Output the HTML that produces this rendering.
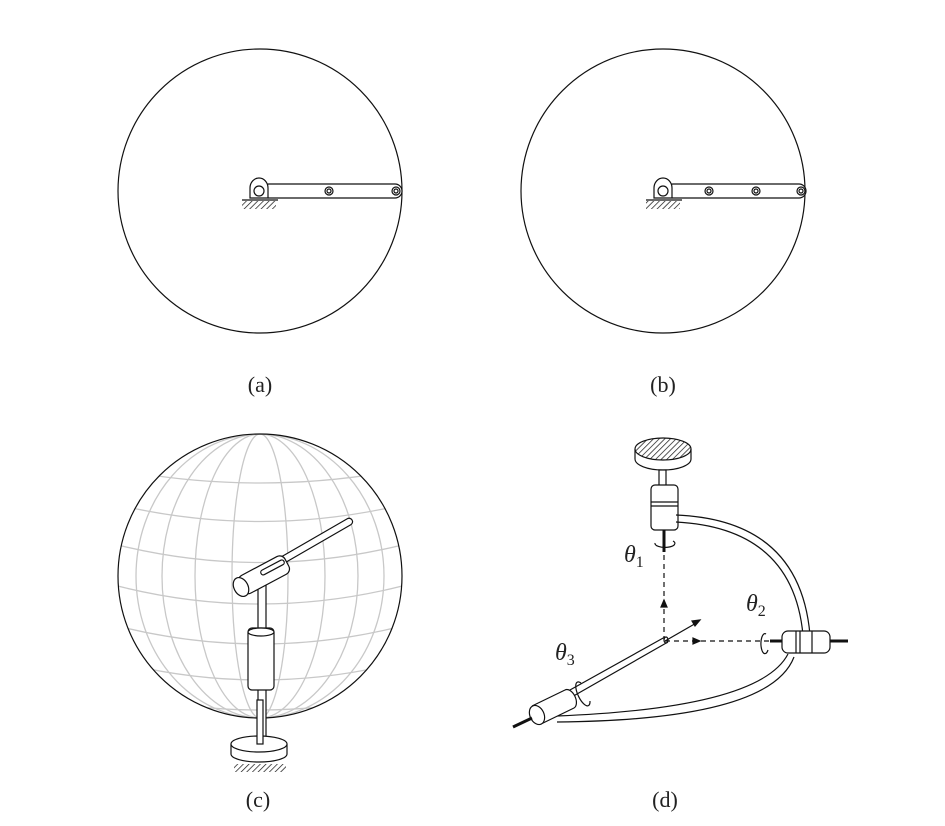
<!DOCTYPE html>
<html><head><meta charset="utf-8"><style>
body{margin:0;background:#fff}
svg{display:block}
text{font-family:"Liberation Serif",serif;fill:#222}
</style></head><body>
<svg width="945" height="826" viewBox="0 0 945 826">
<defs>
<pattern id="h" width="4" height="4" patternUnits="userSpaceOnUse" patternTransform="rotate(45)"><line x1="0" y1="0" x2="0" y2="4" stroke="#111" stroke-width="1.4"/></pattern>
<clipPath id="sph"><circle cx="260" cy="576" r="142"/></clipPath>
</defs>
<g fill="none" stroke="#111" stroke-width="1.2">
<g>
<circle cx="260" cy="191" r="142"/>
<rect x="262" y="184" width="140" height="14" rx="7" fill="#fff"/>
<path d="M250 198 V188 A9 10 0 0 1 268 188 V198 Z" fill="#fff"/>
<circle cx="259" cy="191" r="5"/>
<circle cx="329" cy="191" r="4"/><circle cx="329" cy="191" r="2"/>
<circle cx="396" cy="191" r="4"/><circle cx="396" cy="191" r="2"/>
<line x1="242" y1="200" x2="278" y2="200"/>
<rect x="242" y="201" width="34" height="8" fill="url(#h)" stroke="none"/>
</g>
<g>
<circle cx="663" cy="191" r="142"/>
<rect x="666" y="184" width="140" height="14" rx="7" fill="#fff"/>
<path d="M654 198 V188 A9 10 0 0 1 672 188 V198 Z" fill="#fff"/>
<circle cx="663" cy="191" r="5"/>
<circle cx="709" cy="191" r="4"/><circle cx="709" cy="191" r="2"/>
<circle cx="756" cy="191" r="4"/><circle cx="756" cy="191" r="2"/>
<circle cx="801" cy="191" r="4"/><circle cx="801" cy="191" r="2"/>
<line x1="646" y1="200" x2="682" y2="200"/>
<rect x="646" y="201" width="34" height="8" fill="url(#h)" stroke="none"/>
</g>
<g>
<g stroke="#c8c8c8" stroke-width="1.3" clip-path="url(#sph)">
<ellipse cx="260" cy="576" rx="28" ry="142"/>
<ellipse cx="260" cy="576" rx="65" ry="142"/>
<ellipse cx="260" cy="576" rx="98" ry="142"/>
<ellipse cx="260" cy="576" rx="124" ry="142"/>
<path d="M110 468 Q260 498 410 468"/>
<path d="M110 503 Q260 540 410 503"/>
<path d="M110 543 Q260 582 410 543"/>
<path d="M110 584 Q260 624 410 584"/>
<path d="M110 624 Q260 664 410 624"/>
<path d="M110 660 Q260 700 410 660"/>
<path d="M110 692 Q260 728 410 692"/>
</g>
<circle cx="260" cy="576" r="142"/>
<rect x="258" y="585" width="8" height="160" fill="#fff"/>
<rect x="248" y="628" width="26" height="62" rx="4" fill="#fff"/>
<ellipse cx="261" cy="632" rx="13" ry="4" fill="#fff"/>
<g transform="translate(262 572) rotate(-30)">
<rect x="0" y="-3.5" width="104" height="7" rx="3.5" fill="#fff"/>
</g>
<g transform="translate(241 587) rotate(-28)">
<rect x="0" y="-10" width="52" height="20" rx="6" fill="#fff"/>
<ellipse cx="0" cy="0" rx="7" ry="10" fill="#fff"/>
<rect x="24" y="-5" width="26" height="5" rx="2.5" fill="#fff"/>
</g>
<path d="M231 744 V754 A28 8 0 0 0 287 754 V744" fill="#fff"/>
<ellipse cx="259" cy="744" rx="28" ry="8" fill="#fff"/>
<rect x="257" y="700" width="6" height="44" fill="#fff"/>
<rect x="234" y="764" width="52" height="8" fill="url(#h)" stroke="none"/>
</g>
<g>
<path d="M635 449 V459 A28 11 0 0 0 691 459 V449" fill="#fff"/>
<ellipse cx="663" cy="449" rx="28" ry="11" fill="url(#h)"/>
<rect x="659" y="470" width="7" height="16" fill="#fff"/>
<rect x="651" y="485" width="27" height="45" rx="4" fill="#fff"/>
<line x1="651" y1="502" x2="678" y2="502"/><line x1="651" y1="506" x2="678" y2="506"/>
<path d="M676 515 Q800 520 810 635 M676 522 Q793 528 803 635"/>
<line x1="664" y1="530" x2="664" y2="552" stroke-width="3"/>
<path d="M655 543 A10 4 0 1 0 673 541"/>
<path d="M664 555 V640 M665 641 H770" stroke-dasharray="5 4"/>
<path d="M664 600 l-3 7 h6 z M700 641 l-7 -3 v6 z" fill="#111"/>
<line x1="665" y1="641" x2="698" y2="622"/><path d="M700 620 l-8 1 l3 5 z" fill="#111"/>
<path d="M665 637 L552 700 M668 642 L556 706"/>
<ellipse cx="666" cy="640" rx="2" ry="3"/>
<path d="M788 654 Q760 708 557 716 M794 657 Q770 720 557 722"/>
<rect x="782" y="631" width="48" height="22" rx="6" fill="#fff"/>
<line x1="796" y1="631" x2="796" y2="653"/><line x1="800" y1="631" x2="800" y2="653"/><line x1="812" y1="631" x2="812" y2="653"/>
<line x1="830" y1="641" x2="848" y2="641" stroke-width="3"/>
<line x1="770" y1="641" x2="782" y2="641" stroke-width="3"/>
<path d="M766 634 A4 10 0 1 0 768 650"/>
<path d="M532 706 L565 690 A6 10 -25 0 1 574 708 L541 724" fill="#fff"/>
<ellipse cx="537" cy="715" rx="7" ry="10" transform="rotate(-25 537 715)" fill="#fff"/>
<line x1="513" y1="727" x2="532" y2="718" stroke-width="3"/>
<path d="M581 683 A5 13 -25 1 0 590 701"/>
</g>
</g>
<text x="260" y="392" font-size="22" text-anchor="middle">(a)</text>
<text x="663" y="392" font-size="22" text-anchor="middle">(b)</text>
<text x="258" y="807" font-size="22" text-anchor="middle">(c)</text>
<text x="665" y="807" font-size="22" text-anchor="middle">(d)</text>
<text x="624" y="562" font-size="24" font-style="italic">θ<tspan font-size="16" dy="5" font-style="normal">1</tspan></text>
<text x="746" y="611" font-size="24" font-style="italic">θ<tspan font-size="16" dy="5" font-style="normal">2</tspan></text>
<text x="555" y="660" font-size="24" font-style="italic">θ<tspan font-size="16" dy="5" font-style="normal">3</tspan></text>
</svg>
</body></html>
